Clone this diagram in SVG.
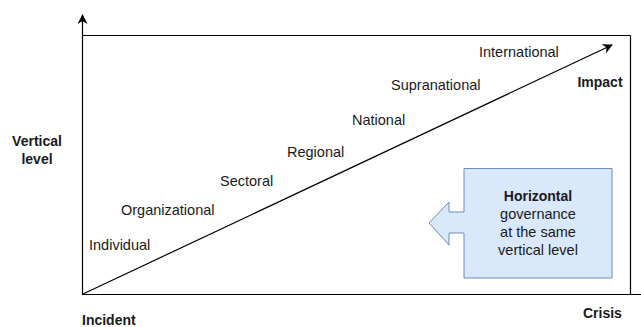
<svg xmlns="http://www.w3.org/2000/svg" width="641" height="327" viewBox="0 0 641 327">
<defs>
<marker id="ah" viewBox="0 0 10 10" refX="9" refY="5" markerWidth="10" markerHeight="10" markerUnits="userSpaceOnUse" orient="auto">
<path d="M0,0 L10,5 L0,10 L3,5 Z" fill="#000"/>
</marker>
<style>
.t{font-family:"Liberation Sans",Arial,sans-serif;font-size:14.5px;fill:#1a1a1a}
.b{font-family:"Liberation Sans",Arial,sans-serif;font-size:14px;font-weight:bold;fill:#1a1a1a}
.ln{stroke:#000;stroke-width:1.2;fill:none}
</style>
</defs>
<rect width="641" height="327" fill="#fff"/>
<g id="connectors">
<line class="ln" x1="82.5" y1="294.5" x2="82.5" y2="15" marker-end="url(#ah)"/>
<line class="ln" x1="82.5" y1="35.5" x2="630.5" y2="35.5"/>
<line class="ln" x1="630.5" y1="35.5" x2="630.5" y2="294.5"/>
<line class="ln" x1="82" y1="294.5" x2="641" y2="294.5" stroke-width="1.5"/>
<line class="ln" x1="83" y1="294" x2="612" y2="45" marker-end="url(#ah)"/>
</g>
<g id="levels">
<text class="t" x="89" y="249.5">Individual</text>
<text class="t" x="121" y="215">Organizational</text>
<text class="t" x="220" y="186">Sectoral</text>
<text class="t" x="287" y="157">Regional</text>
<text class="t" x="352" y="125">National</text>
<text class="t" x="391" y="90">Supranational</text>
<text class="t" x="479" y="57">International</text>
</g>
<g id="axis-labels">
<text class="b" x="600" y="87" text-anchor="middle">Impact</text>
<text class="b" x="37" y="146" text-anchor="middle">Vertical</text>
<text class="b" x="37" y="164" text-anchor="middle">level</text>
<text class="b" x="82" y="325">Incident</text>
<text class="b" x="583" y="318">Crisis</text>
</g>
<g id="horizontal">
<path d="M464,168.5 H612 V278 H464 V233 H449 V245 L429,223 L449,202 V212 H464 Z" fill="#dae8fc" stroke="#6c8ebf" stroke-width="1"/>
<text class="b" x="538" y="201" text-anchor="middle">Horizontal</text>
<text class="t" x="538" y="219" text-anchor="middle">governance</text>
<text class="t" x="538" y="237" text-anchor="middle">at the same</text>
<text class="t" x="538" y="255" text-anchor="middle">vertical level</text>
</g>
</svg>
